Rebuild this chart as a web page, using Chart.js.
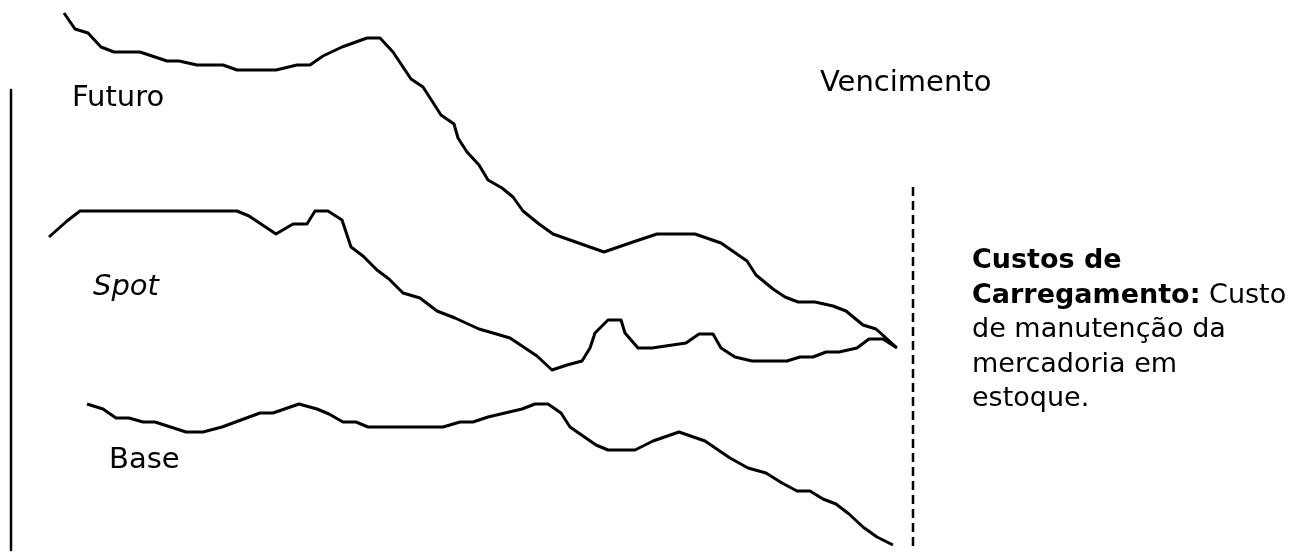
<!DOCTYPE html>
<html>
<head>
<meta charset="utf-8">
<script src="https://cdn.jsdelivr.net/npm/chart.js@4/dist/chart.umd.min.js"></script>
<style>
  html, body { margin: 0; padding: 0; background: #fff; }
  #wrap { width: 1290px; height: 556px; position: relative; }
</style>
</head>
<body>
<div id="wrap"><canvas id="chart"></canvas></div>
<script>
// time (t) and price (p) pairs
const futuro = [[6.4,54.3],[7.5,52.7],[8.8,52.3],[10.1,50.9],[11.4,50.4],[14.0,50.4],[16.7,49.5],[17.9,49.5],
  [19.7,49.1],[22.3,49.1],[23.7,48.6],[27.6,48.6],[29.7,49.1],[31.0,49.1],[32.3,50.0],[34.2,50.9],[36.7,51.8],
  [38.0,51.8],[39.3,50.4],[41.1,47.7],[42.3,46.9],[44.1,44.1],[45.4,43.2],[45.8,41.8],[46.7,40.4],[47.9,39.1],
  [48.8,37.6],[50.2,36.8],[51.3,35.9],[52.3,34.5],[53.9,33.2],[55.3,32.2],[57.0,31.6],[60.4,30.4],[63.0,31.3],
  [65.7,32.2],[69.5,32.2],[72.1,31.3],[74.7,29.5],[75.6,28.1],[77.3,26.7],[78.5,25.9],[79.8,25.4],[81.5,25.4],
  [83.3,25.0],[84.6,24.5],[86.3,23.1],[87.6,22.7],[89.6,20.9]];

const spot = [[4.9,31.9],[6.7,33.5],[8.0,34.5],[23.7,34.5],[24.9,34.0],[27.6,32.2],[29.3,33.2],[30.7,33.2],
  [31.5,34.5],[32.8,34.5],[34.2,33.6],[35.1,30.9],[36.3,30.0],[37.7,28.6],[38.9,27.7],[40.3,26.3],[42.0,25.8],
  [43.7,24.5],[45.5,23.8],[47.9,22.7],[49.3,22.3],[51.0,21.8],[53.7,20.0],[55.2,18.6],[56.7,19.1],[58.2,19.5],
  [59.0,20.8],[59.5,22.3],[60.8,23.6],[62.1,23.6],[62.5,22.3],[63.8,20.8],[65.2,20.8],[68.6,21.3],[69.9,22.2],
  [71.3,22.2],[72.1,20.8],[73.5,19.9],[75.2,19.5],[78.7,19.5],[80.0,19.9],[81.3,19.9],[82.6,20.4],[83.9,20.4],
  [85.7,20.8],[86.9,21.7],[88.3,21.7],[89.7,20.8]];

const base = [[8.7,15.2],[10.3,14.7],[11.6,13.8],[12.9,13.8],[14.3,13.4],[15.5,13.4],[18.6,12.4],[20.3,12.4],
  [22.2,12.9],[26.0,14.3],[27.3,14.3],[29.9,15.2],[31.7,14.7],[32.9,14.2],[34.3,13.4],[35.6,13.4],[36.8,12.9],
  [44.3,12.9],[46.0,13.4],[47.3,13.4],[48.8,13.9],[52.2,14.7],[53.5,15.2],[54.8,15.2],[56.1,14.3],[57.0,12.9],
  [59.6,11.1],[60.8,10.6],[63.5,10.6],[65.3,11.5],[67.9,12.4],[70.5,11.5],[73.0,9.8],[74.8,8.8],[76.6,8.3],
  [78.2,7.3],[79.7,6.5],[81.0,6.5],[82.3,5.7],[83.6,5.2],[84.9,4.2],[86.3,2.9],[87.7,1.9],[89.3,1.1]];

// price axis and expiry (vencimento) marker
const eixo = [[1.1,46.6],[1.1,0.6]];
const vencimento = [[91.3,36.9],[91.3,0.8]];

// labels: text, t, p (baseline), style
const rotulos = [
  ['Futuro', 7.2, 45.0, 'normal'],
  ['Vencimento', 82.0, 46.5, 'normal'],
  ['Spot', 9.3, 26.1, 'italic'],
  ['Base', 10.9, 8.8, 'normal']
];

// note on the right, runs of [text, bold]
const nota = [
  [['Custos de', true]],
  [['Carregamento:', true], [' Custo', false]],
  [['de manutenção da', false]],
  [['mercadoria em', false]],
  [['estoque.', false]]
];
const notaT = 97.2;
const notaP = [28.8, 25.35, 21.9, 18.45, 15.0];

const toXY = arr => arr.map(d => ({x: d[0], y: d[1]}));

const font = '"DejaVu Sans", sans-serif';

const textos = {
  id: 'textos',
  afterDraw(chart) {
    const ctx = chart.ctx;
    const sx = chart.scales.x, sy = chart.scales.y;
    ctx.save();
    ctx.fillStyle = '#000';
    ctx.textBaseline = 'alphabetic';
    ctx.textAlign = 'left';
    rotulos.forEach(r => {
      ctx.font = (r[3] === 'italic' ? 'italic ' : '') + '29px ' + font;
      ctx.fillText(r[0], sx.getPixelForValue(r[1]), sy.getPixelForValue(r[2]));
    });
    nota.forEach((linha, i) => {
      let x = sx.getPixelForValue(notaT);
      const y = sy.getPixelForValue(notaP[i]);
      linha.forEach(run => {
        ctx.font = (run[1] ? 'bold ' : '') + '27px ' + font;
        ctx.fillText(run[0], x, y);
        x += ctx.measureText(run[0]).width;
      });
    });
    ctx.restore();
  }
};

const linha = (data, extra) => Object.assign({
  data: toXY(data),
  borderColor: '#000',
  borderWidth: 3,
  pointRadius: 0,
  tension: 0,
  fill: false,
  clip: false,
  borderJoinStyle: 'round'
}, extra || {});

new Chart(document.getElementById('chart'), {
  type: 'line',
  data: {
    datasets: [
      linha(futuro, {label: 'Futuro'}),
      linha(spot, {label: 'Spot'}),
      linha(base, {label: 'Base'}),
      linha(eixo, {label: 'eixo', borderWidth: 2.5}),
      linha(vencimento, {label: 'Vencimento', borderWidth: 2.5, borderDash: [9, 5], borderCapStyle: 'butt'})
    ]
  },
  options: {
    responsive: true,
    maintainAspectRatio: false,
    animation: false,
    layout: {padding: 0},
    plugins: {legend: {display: false}, tooltip: {enabled: false}},
    scales: {
      x: {type: 'linear', min: 0, max: 129, display: false},
      y: {type: 'linear', min: 0, max: 55.6, display: false}
    }
  },
  plugins: [textos]
});
</script>
</body>
</html>
